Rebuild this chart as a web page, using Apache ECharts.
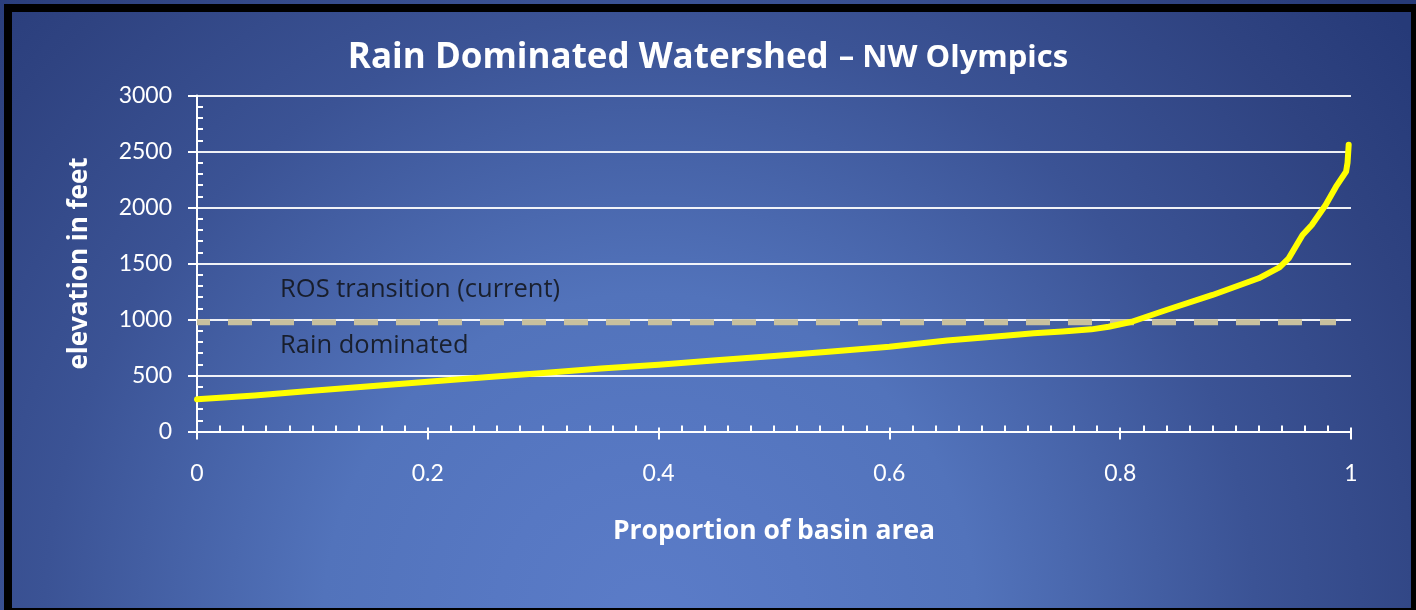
<!DOCTYPE html>
<html>
<head>
<meta charset="utf-8">
<title>Rain Dominated Watershed – NW Olympics</title>
<script src="https://cdn.jsdelivr.net/npm/echarts@6/dist/echarts.min.js"></script>
<style>
  html, body { margin: 0; padding: 0; }
  #chart { width: 1416px; height: 610px; }
</style>
</head>
<body>
<div id="chart"></div>
<script>
// Hypsometric curve: proportion of basin area vs elevation (feet)
const basinProportion = [0, 0.05, 0.1, 0.15, 0.2, 0.25, 0.3, 0.35, 0.4, 0.45, 0.5, 0.55, 0.6, 0.65, 0.7, 0.725, 0.75, 0.775, 0.79, 0.81, 0.84, 0.88, 0.92, 0.938, 0.946, 0.958, 0.966, 0.978, 0.987, 0.9957, 0.997, 0.998];
const elevationFeet = [287, 322, 364, 404, 444, 484, 522, 562, 596, 636, 674, 714, 757, 812, 855, 877, 893, 912, 935, 980, 1085, 1219, 1368, 1466, 1546, 1754, 1844, 2022, 2186, 2320, 2400, 2560];

// Rain-on-snow transition elevation (current)
const rosX = [0, 0.987];
const rosElevation = 975;

// Zone annotations
const zoneLabels = ['ROS transition (current)', 'Rain dominated'];
const zoneLabelX = [0.072, 0.072];
const zoneLabelY = [1266, 762];

const yTicks = { min: 0, max: 3000, interval: 500 };
const xTicks = { min: 0, max: 1, interval: 0.2 };

const FONT = '"Open Sans", Lato, sans-serif';
const TICK_FONT = 'Lato, "Open Sans", sans-serif';
const WHITE = '#ffffff';

const curve = basinProportion.map((p, i) => [p, elevationFeet[i]]);
const rosLine = rosX.map(x => [x, rosElevation]);
const zonePoints = zoneLabels.map((name, i) => ({ name, value: [zoneLabelX[i], zoneLabelY[i]] }));

const chart = echarts.init(document.getElementById('chart'), null, { renderer: 'canvas' });

chart.setOption({
  backgroundColor: {
    type: 'radial', x: 650, y: 620, r: 960, global: true,
    colorStops: [
      { offset: 0, color: '#5b7cc8' },
      { offset: 0.16, color: '#5778c3' },
      { offset: 0.34, color: '#5273bb' },
      { offset: 0.63, color: '#3b5395' },
      { offset: 0.85, color: '#2f4381' },
      { offset: 1, color: '#263a78' }
    ]
  },
  animation: false,
  title: {
    text: '{a|Rain Dominated Watershed}  {b|– NW Olympics}',
    left: 'center',
    top: 36,
    textStyle: {
      rich: {
        a: { fontFamily: FONT, fontSize: 35, fontWeight: 'bold', color: WHITE },
        b: { fontFamily: FONT, fontSize: 31, fontWeight: 'bold', color: WHITE }
      }
    }
  },
  graphic: [{
    type: 'rect',
    shape: { x: 8, y: 8, width: 1407, height: 604 },
    style: { fill: 'none', stroke: '#000000', lineWidth: 8 },
    silent: true
  }],
  grid: { left: 197, right: 65, top: 95.5, bottom: 178.5, containLabel: false },
  xAxis: [{
    type: 'value',
    min: xTicks.min, max: xTicks.max, interval: xTicks.interval,
    position: 'bottom',
    name: 'Proportion of basin area',
    nameLocation: 'middle',
    nameGap: 86,
    nameTextStyle: { fontFamily: FONT, fontSize: 26.5, fontWeight: 'bold', color: WHITE },
    axisLine: { show: true, onZero: false, lineStyle: { color: WHITE, width: 2 } },
    axisTick: { show: true, inside: true, length: 4, lineStyle: { color: WHITE, width: 2 } },
    minorTick: { show: true, splitNumber: 10, length: 6, lineStyle: { color: WHITE, width: 2 } },
    axisLabel: { color: WHITE, fontFamily: TICK_FONT, fontSize: 23, margin: 31 },
    splitLine: { show: false }
  }, {
    type: 'value',
    min: xTicks.min, max: xTicks.max, interval: xTicks.interval,
    position: 'bottom',
    axisLine: { show: false },
    axisTick: { show: true, inside: false, length: 8, lineStyle: { color: WHITE, width: 2 } },
    axisLabel: { show: false },
    splitLine: { show: false }
  }],
  yAxis: [{
    type: 'value',
    min: yTicks.min, max: yTicks.max, interval: yTicks.interval,
    position: 'left',
    name: 'elevation in feet',
    nameLocation: 'middle',
    nameGap: 104,
    nameRotate: 90,
    nameTextStyle: { fontFamily: FONT, fontSize: 26, fontWeight: 'bold', color: WHITE },
    axisLine: { show: true, onZero: false, lineStyle: { color: WHITE, width: 2 } },
    axisTick: { show: true, inside: true, length: 1, lineStyle: { color: WHITE, width: 2 } },
    minorTick: { show: true, splitNumber: 5, length: 6, lineStyle: { color: WHITE, width: 2 } },
    axisLabel: { color: WHITE, fontFamily: TICK_FONT, fontSize: 23, margin: 25, formatter: v => String(v) },
    splitLine: { show: true, lineStyle: { color: 'rgba(255,255,255,0.92)', width: 2 } }
  }, {
    type: 'value',
    min: yTicks.min, max: yTicks.max, interval: yTicks.interval,
    position: 'left',
    axisLine: { show: false },
    axisTick: { show: true, inside: false, length: 9, lineStyle: { color: WHITE, width: 2 } },
    axisLabel: { show: false },
    splitLine: { show: false }
  }],
  series: [{
    name: 'ROS transition',
    type: 'line',
    xAxisIndex: 0, yAxisIndex: 0,
    data: rosLine,
    symbol: 'none',
    silent: true,
    lineStyle: { color: '#c8c09e', width: 6, type: [24, 18], dashOffset: 11, cap: 'butt' },
    z: 3
  }, {
    name: 'Elevation',
    type: 'line',
    xAxisIndex: 0, yAxisIndex: 0,
    data: curve,
    symbol: 'none',
    silent: true,
    lineStyle: { color: '#ffff00', width: 6, cap: 'round', join: 'round' },
    z: 4
  }, {
    name: 'Zones',
    type: 'scatter',
    xAxisIndex: 0, yAxisIndex: 0,
    data: zonePoints,
    symbolSize: 0,
    silent: true,
    label: {
      show: true,
      position: 'right',
      distance: 0,
      formatter: p => p.name,
      fontFamily: FONT,
      fontSize: 25.5,
      color: '#0d0d0d'
    },
    z: 5
  }]
});
</script>
</body>
</html>
